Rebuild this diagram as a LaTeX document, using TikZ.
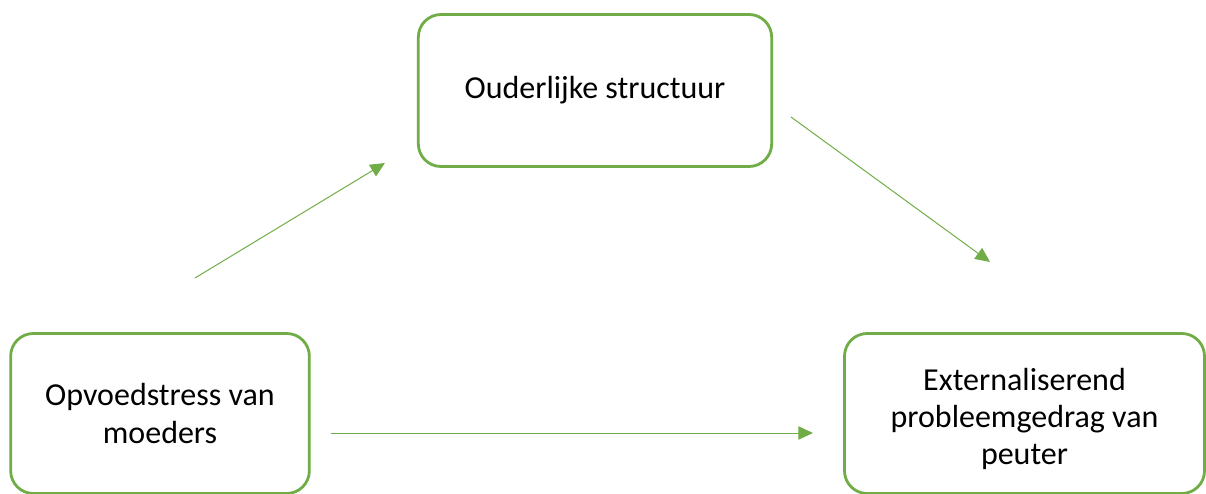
\documentclass[tikz,border=0pt]{standalone}
\usepackage{fontspec}
\setmainfont{Carlito}
\usepackage{xcolor}
\usetikzlibrary{arrows.meta}
\definecolor{boxgreen}{HTML}{70AD47}

\tikzset{
  factor/.style={draw=boxgreen,line width=2.1pt,rounded corners=17pt,align=center,
    font=\fontsize{24}{28}\selectfont,inner sep=0pt},
  pad/.style={->,draw=boxgreen,line width=0.75pt,-{Triangle[length=11pt,width=10pt]},boxgreen}
}

\begin{document}
\begin{tikzpicture}[x=0.75pt,y=0.75pt]
        \useasboundingbox (0,0) rectangle (1206,493);
        % boxes
        \node[factor,minimum width=265pt,minimum height=114pt] (struct) at (595,402.5) {Ouderlijke structuur};
        \node[factor,minimum width=224pt,minimum height=120pt] (stress) at (160,79.5) {Opvoedstress van\\moeders};
        \node[factor,minimum width=270pt,minimum height=120pt] (gedrag) at (1024.5,79.5) {\rule{0pt}{25pt}Externaliserend\\probleemgedrag van\\peuter};
        % arrow ends
        \draw (195,215) coordinate (s1);
        \draw (385,330) coordinate (e1);
        \draw (791,376) coordinate (s2);
        \draw (990,231) coordinate (e2);
        \draw (331,60) coordinate (s3);
        \draw (813,60) coordinate (e3);
        \draw[pad] (s1)--(e1);
        \draw[pad] (s2)--(e2);
        \draw[pad] (s3)--(e3);
    \end{tikzpicture}
\end{document}
